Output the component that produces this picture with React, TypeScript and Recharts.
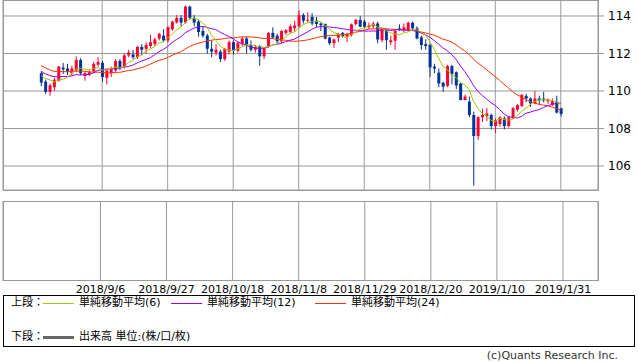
import React from 'react';
import { ComposedChart, Bar, Line, XAxis, YAxis, CartesianGrid } from 'recharts';

// 日足 2018/8/17 - 2019/1/31 (平日のみ)
const firstDay = '2018-08-17';
const lastDay = '2019-01-31';

const tickDates = ['2018/9/6', '2018/9/27', '2018/10/18', '2018/11/8', '2018/11/29', '2018/12/20', '2019/1/10', '2019/1/31'];
const priceTicks = [106, 108, 110, 112, 114];

// 表示開始前の終値 (移動平均用)
const priorCloses = [
  112.88, 112.88, 112.47, 111.42, 111.35, 111.22, 110.98, 111.03, 111.05, 111.04, 111.86, 111.7,
  111.68, 111.25, 111.36, 111.38, 110.98, 111.06, 110.9, 110.72, 111.22, 110.72, 110.92,
];

const opens = [
  110.95, 110.5, 109.95, 110.2, 110.55, 111.25, 111.2, 110.95, 111.1, 111.65,
  110.8, 110.9, 111.05, 111.4, 111.5, 110.7, 110.95, 111.1, 111.6, 111.3,
  111.9, 111.95, 111.8, 112.35, 112.25, 112.4, 112.5, 112.8, 112.95, 112.7,
  113.3, 113.65, 113.9, 113.65, 114.5, 113.9, 113.7, 113.2, 112.95, 112.25,
  112.05, 112.1, 111.7, 112.1, 112.6, 112.15, 112.5, 112.8, 112.45, 112.2,
  112.4, 111.85, 112.35, 113.1, 112.95, 112.65, 113.1, 113.15, 113.35, 113.45,
  114.05, 113.75, 113.95, 113.75, 113.6, 113.57, 112.85, 112.55, 112.85, 113.1,
  112.9, 112.98, 113.57, 113.79, 113.7, 113.4, 113.45, 113.6, 112.71, 113.25,
  112.6, 112.68, 113.34, 113.25, 113.25, 113.64, 113.34, 112.86, 112.5, 112.45,
  111.3, 110.98, 110.44, 110.27, 111.33, 111.0, 110.4, 109.52, 109.43, 108.72,
  107.6, 108.6, 108.65, 108.72, 108.13, 108.24, 108.54, 108.13, 108.55, 109.0,
  109.2, 109.73, 109.6, 109.34, 109.6, 109.6, 109.45, 109.25, 109.43, 109.08,
];

const highs = [
  111.05, 110.6, 110.4, 110.7, 111.35, 111.5, 111.45, 111.35, 111.85, 111.75,
  111.05, 111.1, 111.55, 111.8, 111.6, 111.15, 111.3, 111.7, 111.7, 112.0,
  112.2, 112.2, 112.4, 112.5, 112.6, 113.0, 112.85, 113.1, 113.3, 113.45,
  113.75, 114.05, 114.05, 114.55, 114.55, 114.05, 113.8, 113.45, 113.05, 112.7,
  112.5, 112.2, 112.3, 112.7, 112.7, 112.65, 112.9, 112.9, 112.7, 112.45,
  112.45, 112.35, 113.15, 113.4, 113.05, 113.25, 113.3, 113.55, 113.75, 114.3,
  114.15, 114.2, 114.15, 113.95, 113.65, 113.6, 112.9, 112.8, 113.1, 113.15,
  113.1, 113.6, 113.85, 114.0, 113.8, 113.65, 113.7, 113.7, 113.4, 113.3,
  112.95, 113.25, 113.55, 113.6, 113.7, 113.7, 113.45, 112.95, 112.75, 112.5,
  111.45, 111.2, 110.5, 111.4, 111.4, 111.05, 110.45, 109.8, 109.7, 108.9,
  108.65, 109.05, 109.1, 108.8, 108.55, 108.65, 108.65, 108.65, 109.15, 109.3,
  109.85, 109.85, 109.65, 110.0, 109.75, 109.95, 109.6, 109.6, 109.75, 109.1,
];

const lows = [
  110.25, 109.85, 109.75, 110.0, 110.5, 110.9, 110.85, 110.8, 111.0, 110.85,
  110.55, 110.8, 110.95, 111.3, 110.5, 110.35, 110.75, 111.0, 111.1, 111.2,
  111.8, 111.7, 111.7, 111.9, 112.0, 112.3, 112.4, 112.7, 112.6, 112.6,
  113.2, 113.6, 113.45, 113.6, 113.8, 113.45, 112.9, 112.85, 112.0, 111.8,
  111.9, 111.55, 111.6, 111.95, 111.95, 112.05, 112.4, 112.0, 112.1, 112.05,
  111.35, 111.7, 112.3, 112.8, 112.5, 112.55, 113.0, 113.05, 113.15, 113.35,
  113.6, 113.65, 113.5, 113.4, 113.2, 112.75, 112.45, 112.3, 112.6, 112.85,
  112.6, 112.9, 113.5, 113.4, 113.35, 113.3, 113.35, 112.55, 112.6, 112.2,
  112.45, 112.2, 113.2, 113.15, 113.2, 113.2, 112.75, 112.2, 112.2, 110.76,
  110.95, 110.2, 109.95, 110.2, 110.35, 110.1, 109.5, 109.5, 108.6, 104.95,
  107.4, 108.35, 108.4, 107.95, 107.75, 108.1, 107.95, 108.05, 108.5, 108.9,
  109.15, 109.4, 109.15, 109.3, 109.25, 109.4, 109.3, 109.2, 108.8, 108.65,
];

const closes = [
  110.45, 109.95, 110.3, 110.6, 111.3, 111.15, 111.05, 111.2, 111.65, 110.95,
  110.95, 111.0, 111.45, 111.55, 110.75, 111.1, 111.2, 111.6, 111.2, 111.9,
  112.05, 111.8, 112.35, 112.2, 112.45, 112.6, 112.75, 113.05, 112.7, 113.4,
  113.7, 113.9, 113.65, 114.5, 113.9, 113.65, 113.15, 112.95, 112.25, 112.1,
  112.2, 111.7, 112.25, 112.6, 112.15, 112.55, 112.8, 112.45, 112.2, 112.35,
  111.85, 112.3, 113.1, 112.85, 112.65, 113.2, 113.25, 113.45, 113.5, 114.05,
  113.75, 113.8, 113.6, 113.57, 113.5, 112.8, 112.55, 112.75, 113.05, 112.9,
  113.05, 113.55, 113.79, 113.43, 113.43, 113.5, 113.6, 112.75, 113.34, 112.71,
  112.7, 113.2, 113.25, 113.4, 113.64, 113.34, 112.8, 112.45, 112.4, 111.26,
  111.2, 110.4, 110.23, 111.33, 110.9, 110.3, 109.52, 109.7, 108.72, 107.6,
  108.6, 108.72, 108.8, 108.13, 108.45, 108.6, 108.13, 108.6, 109.08, 109.25,
  109.79, 109.6, 109.34, 109.6, 109.5, 109.5, 109.55, 109.45, 108.85, 108.78,
];

const UP = '#ff0033';
const DOWN = '#003399';
const GRID = '#999999';

const weekdays = (from: string, to: string) => {
  const out: string[] = [];
  const d = new Date(from + 'T00:00:00Z');
  const end = new Date(to + 'T00:00:00Z');
  while (d <= end) {
    const wd = d.getUTCDay();
    if (wd !== 0 && wd !== 6) out.push(`${d.getUTCFullYear()}/${d.getUTCMonth() + 1}/${d.getUTCDate()}`);
    d.setUTCDate(d.getUTCDate() + 1);
  }
  return out;
};

const dates = weekdays(firstDay, lastDay);
const allCloses = [...priorCloses, ...closes];
const sma = (n: number, i: number) => {
  const end = i + priorCloses.length;
  let s = 0;
  for (let k = end - n + 1; k <= end; k++) s += allCloses[k];
  return s / n;
};

const rows = dates.map((date, i) => ({
  date,
  open: opens[i],
  close: closes[i],
  range: [lows[i], highs[i]],
  ma6: sma(6, i),
  ma12: sma(12, i),
  ma24: sma(24, i),
}));

const Candle = (props: any) => {
  const { x, y, width, height, payload } = props;
  if (!payload) return null;
  const [lo, hi] = payload.range;
  const top = Math.min(y, y + height);
  const h = Math.abs(height);
  const k = hi > lo ? h / (hi - lo) : 0;
  const color = payload.close >= payload.open ? UP : DOWN;
  const bodyTop = top + (hi - Math.max(payload.open, payload.close)) * k;
  const bodyH = Math.max(1, Math.abs(payload.close - payload.open) * k);
  const cx = x + width / 2;
  return (
    <g>
      <line x1={cx} x2={cx} y1={top} y2={top + h} stroke={color} strokeWidth={1} />
      <rect x={x} y={bodyTop} width={width} height={bodyH} fill={color} />
    </g>
  );
};

const xPad = { left: 35.8, right: 35 };
const font = "'DejaVu Sans', 'Noto Sans CJK JP', sans-serif";

const abs = (left: number, top: number, extra: React.CSSProperties = {}): React.CSSProperties => ({
  position: 'absolute', left, top, ...extra,
});

const App: React.FC = () => {
  return (
    <div style={{ position: 'absolute', left: 0, top: 0, width: 638, height: 362, background: '#fff', fontFamily: font, fontSize: 11, color: '#000', overflow: 'hidden' }}>
      {/* 上段 */}
      <div style={abs(0, 0)}>
        <ComposedChart width={638} height={191} data={rows} margin={{ top: 0, right: 0, bottom: 1, left: 3 }}>
          <CartesianGrid stroke={GRID} />
          <XAxis dataKey="date" hide ticks={tickDates} interval={0} padding={xPad} />
          <YAxis
            orientation="right"
            width={40}
            domain={[104.72, 114.853]}
            allowDataOverflow
            ticks={priceTicks}
            axisLine={false}
            tickSize={6}
            tickMargin={4}
            tickLine={{ stroke: GRID }}
            tick={{ fontSize: 12, fill: '#000' }}
          />
          <Line dataKey="ma24" stroke="#ff3300" strokeWidth={1} dot={false} isAnimationActive={false} />
          <Line dataKey="ma12" stroke="#9900ff" strokeWidth={1} dot={false} isAnimationActive={false} />
          <Line dataKey="ma6" stroke="#99cc00" strokeWidth={1} dot={false} isAnimationActive={false} />
          <Bar dataKey="range" barSize={3} shape={<Candle />} isAnimationActive={false} />
        </ComposedChart>
      </div>
      <div style={abs(3, 0, { width: 596, height: 191, border: `1px solid ${GRID}`, boxSizing: 'border-box', pointerEvents: 'none' })} />

      {/* 下段 (出来高なし) */}
      <div style={abs(0, 201)}>
        <ComposedChart width={638} height={100} data={rows} margin={{ top: 0, right: 40, bottom: 0, left: 3 }}>
          <CartesianGrid stroke={GRID} horizontal={false} />
          <XAxis
            dataKey="date"
            ticks={tickDates}
            interval={0}
            padding={xPad}
            height={20}
            axisLine={false}
            tickLine={false}
            tickSize={0}
            tickMargin={4}
            tick={{ fontSize: 11, fill: '#000' }}
          />
          <YAxis hide domain={[0, 1]} />
        </ComposedChart>
      </div>
      <div style={abs(3, 201, { width: 596, height: 80, border: `1px solid ${GRID}`, boxSizing: 'border-box', pointerEvents: 'none' })} />

      {/* 凡例 */}
      <div style={abs(3, 295, { width: 632, height: 52, border: '1px solid #000', boxSizing: 'border-box' })} />
      <div style={abs(11, 296, { lineHeight: '14px' })}>上段：</div>
      <div style={abs(43, 303, { width: 31, height: 1, background: '#99cc00' })} />
      <div style={abs(79, 296, { lineHeight: '14px' })}>単純移動平均(6)</div>
      <div style={abs(171, 303, { width: 31, height: 1, background: '#9900ff' })} />
      <div style={abs(207, 296, { lineHeight: '14px' })}>単純移動平均(12)</div>
      <div style={abs(315, 303, { width: 31, height: 1, background: '#ff3300' })} />
      <div style={abs(351, 296, { lineHeight: '14px' })}>単純移動平均(24)</div>

      <div style={abs(11, 330, { lineHeight: '14px' })}>下段：</div>
      <div style={abs(43, 336, { width: 31, height: 3, background: '#666' })} />
      <div style={abs(79, 330, { lineHeight: '14px' })}>出来高 単位:(株/口/枚)</div>

      <div style={{ position: 'absolute', right: 20, top: 350, lineHeight: '12px', color: '#333', whiteSpace: 'nowrap' }}>(c)Quants Research Inc.</div>
    </div>
  );
};

export default App;
